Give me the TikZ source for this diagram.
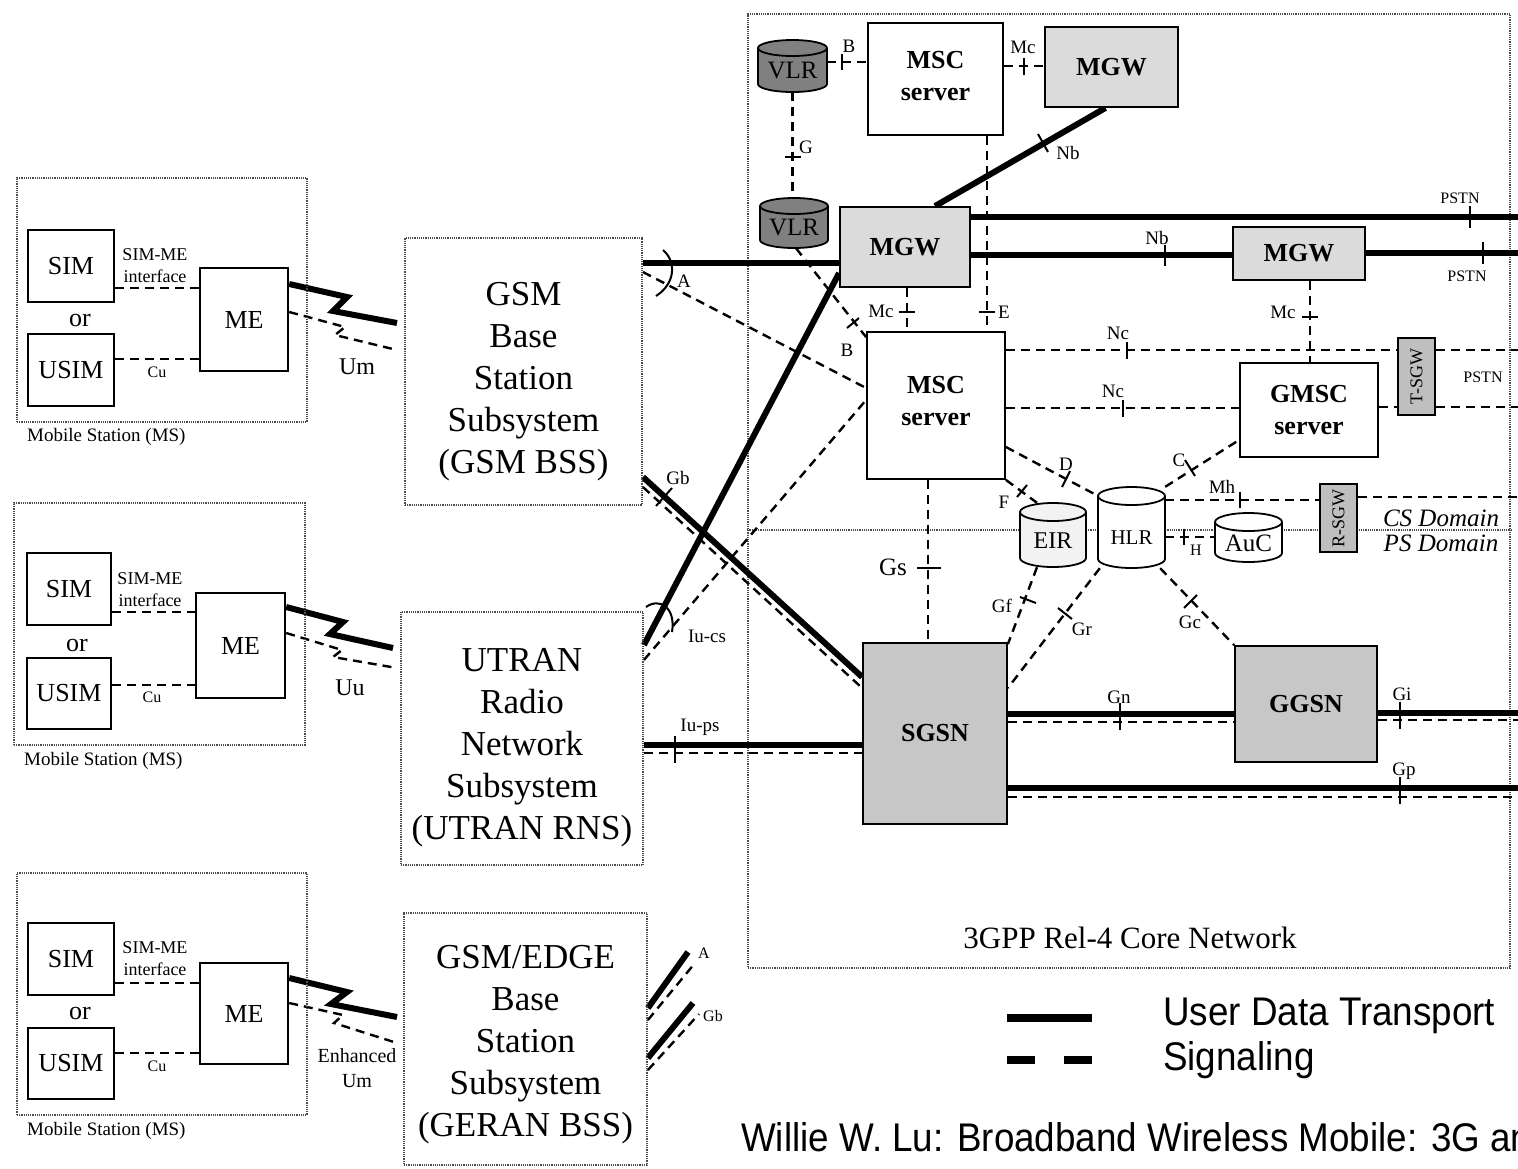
\documentclass[tikz,border=0pt]{standalone}
\usepackage{fontspec}
\setmainfont{Liberation Serif}
\newfontfamily\legendfont[FakeStretch=0.92]{Liberation Sans}
\usetikzlibrary{calc}
\pgfdeclarelayer{back}
\pgfdeclarelayer{links}
\pgfsetlayers{back,links,main}
\newcommand\fs[2]{\fontsize{#1}{#2}\selectfont}
\newcommand\mycyl[7]{%
  \fill[#7] (#1,#2+#6) -- (#1,#4-#6) arc[start angle=180,end angle=360,x radius=#5pt,y radius=#6pt] -- (#3,#2+#6) arc[start angle=0,end angle=180,x radius=#5pt,y radius=#6pt] -- cycle;
  \draw[line width=1.8pt] (#1,#2+#6) -- (#1,#4-#6) arc[start angle=180,end angle=360,x radius=#5pt,y radius=#6pt] -- (#3,#2+#6);
  \draw[line width=1.8pt] (#3,#2+#6) arc[start angle=0,end angle=360,x radius=#5pt,y radius=#6pt];
}
\definecolor{vlrgray}{gray}{0.50}
\definecolor{mgwgray}{gray}{0.86}
\definecolor{sgsngray}{gray}{0.78}
\definecolor{gwgray}{gray}{0.75}
\definecolor{eirgray}{gray}{0.95}
\begin{document}
\begin{tikzpicture}[x=1pt,y=-1pt,
  sig/.style={line width=2.4pt, dash pattern=on 9pt off 6pt},
  data/.style={line width=6pt},
  tk/.style={line width=2pt},
  dotbox/.style={draw=black!70, line width=1.8pt, dash pattern=on 1.2pt off 1pt, inner sep=0pt, align=center},
  sbox/.style={draw, line width=2.4pt, inner sep=0pt, align=center, font=\fs{26}{30}},
  cbox/.style={draw, line width=1.8pt, inner sep=0pt, align=center, font=\fs{26}{32}\bfseries},
  geo/.style={inner sep=0pt},
  lb/.style={inner sep=0pt, font=\fs{19}{19}},
  slb/.style={inner sep=0pt, font=\fs{16}{16}},
  cylt/.style={inner sep=0pt, font=\fs{24}{24}},
  bsstext/.style={inner sep=0pt, align=center, font=\fs{35}{42}},
]
\useasboundingbox (0,0) rectangle (1518,1168);

% ---------- background: core network frame and domain line
\begin{pgfonlayer}{back}
\node[dotbox, minimum width=762pt, minimum height=954pt] (core) at (1129,491) {};
\draw[black!70, line width=1.5pt, dash pattern=on 1.2pt off 1pt] (core.west |- 0,530) -- (core.east |- 0,530);
\end{pgfonlayer}
\node[font=\fs{31}{31}] (corelbl) at (1130,938) {3GPP Rel-4 Core Network};
\node[font=\fs{25}{25}\itshape] (csdom) at (1441,518) {CS Domain};
\node[font=\fs{25}{25}\itshape] (psdom) at (1441,543) {PS Domain};

% ---------- mobile stations
\node[dotbox, minimum width=290pt, minimum height=244pt] (ms1) at (162,300) {};
\node[dotbox, minimum width=291pt, minimum height=242pt] (ms2) at (159.5,624) {};
\node[dotbox, minimum width=290pt, minimum height=242pt] (ms3) at (162,994) {};

\node[sbox, minimum width=86pt, minimum height=72pt] (sim1) at (71,266) {SIM};
\node[sbox, minimum width=86pt, minimum height=72pt] (usim1) at (71,370) {USIM};
\node[sbox, minimum width=88pt, minimum height=103pt] (me1) at (244,319.5) {ME};
\node[sbox, minimum width=84pt, minimum height=72pt] (sim2) at (69,589) {SIM};
\node[sbox, minimum width=84pt, minimum height=71pt] (usim2) at (69,693.5) {USIM};
\node[sbox, minimum width=89pt, minimum height=105pt] (me2) at (240.5,645.5) {ME};
\node[sbox, minimum width=86pt, minimum height=72pt] (sim3) at (71,959) {SIM};
\node[sbox, minimum width=86pt, minimum height=71pt] (usim3) at (71,1063.5) {USIM};
\node[sbox, minimum width=88pt, minimum height=101pt] (me3) at (244,1013.5) {ME};

\node[font=\fs{26}{26}] (or1) at (80,320) {or};
\node[font=\fs{26}{26}] (or2) at (77,645) {or};
\node[font=\fs{26}{26}] (or3) at (80,1013) {or};
\node[font=\fs{18}{22}, align=center, inner sep=0pt] (smi1) at (155,266) {SIM-ME\\interface};
\node[font=\fs{18}{22}, align=center, inner sep=0pt] (smi2) at (150,590) {SIM-ME\\interface};
\node[font=\fs{18}{22}, align=center, inner sep=0pt] (smi3) at (155,959) {SIM-ME\\interface};
\node[slb] (cu1) at (157,372) {Cu};
\node[slb] (cu2) at (152,697) {Cu};
\node[slb] (cu3) at (157,1066) {Cu};
\node[anchor=west, font=\fs{19}{19}, inner sep=0pt] (msl1) at (27,437) {Mobile Station (MS)};
\node[anchor=west, font=\fs{19}{19}, inner sep=0pt] (msl2) at (24,761) {Mobile Station (MS)};
\node[anchor=west, font=\fs{19}{19}, inner sep=0pt] (msl3) at (27,1131) {Mobile Station (MS)};

% ---------- access networks
\node[dotbox, minimum width=237pt, minimum height=267pt] (gsmbss) at (523.5,371.5) {};
\node[bsstext] (gsmbsst) at (523.5,382) {GSM\\Base\\Station\\Subsystem\\(GSM BSS)};
\node[dotbox, minimum width=242pt, minimum height=253pt] (utran) at (522,738.5) {};
\node[bsstext] (utrant) at (522,747.5) {UTRAN\\Radio\\Network\\Subsystem\\(UTRAN RNS)};
\node[dotbox, minimum width=243pt, minimum height=252pt] (geran) at (525.5,1039) {};
\node[bsstext] (gerant) at (525.5,1045) {GSM/EDGE\\Base\\Station\\Subsystem\\(GERAN BSS)};

\node[font=\fs{24}{24}] (um1) at (357,367) {Um};
\node[font=\fs{24}{24}] (uu2) at (350,688) {Uu};
\node[font=\fs{20}{25}, align=center, inner sep=0pt] (um3) at (357,1068) {Enhanced\\Um};

% ---------- core network elements
\mycyl{758}{40}{827}{92}{34.5}{8}{vlrgray}
\node[geo, minimum width=69pt, minimum height=52pt] (vlr1) at (792.5,66) {};
\node[cylt, font=\fs{25}{25}] (vlr1t) at (792.5,70) {VLR};
\mycyl{760}{198}{828}{248}{34}{8}{vlrgray}
\node[geo, minimum width=68pt, minimum height=50pt] (vlr2) at (794,223) {};
\node[cylt, font=\fs{25}{25}] (vlr2t) at (794,227) {VLR};

\node[cbox, fill=white, minimum width=135pt, minimum height=112pt, text depth=7pt] (msc1) at (935.5,79) {MSC\\server};
\node[cbox, fill=mgwgray, minimum width=133pt, minimum height=80pt] (mgw1) at (1111.5,67) {MGW};
\node[cbox, fill=mgwgray, minimum width=130pt, minimum height=80pt] (mgw2) at (905,247) {MGW};
\node[cbox, fill=mgwgray, minimum width=132pt, minimum height=53pt] (mgw3) at (1299,253.5) {MGW};
\node[cbox, fill=white, minimum width=138pt, minimum height=147pt, text depth=10pt] (msc2) at (936,405.5) {MSC\\server};
\node[cbox, fill=white, minimum width=138pt, minimum height=94pt] (gmsc) at (1309,410) {GMSC\\server};
\node[geo, draw, line width=1.8pt, fill=gwgray, minimum width=37pt, minimum height=77pt] (tsgw) at (1416.5,376.5) {};
\node[inner sep=0pt, rotate=90, font=\fs{18}{18}] (tsgwt) at (1416.5,376.5) {T-SGW};
\node[geo, draw, line width=1.8pt, fill=gwgray, minimum width=37pt, minimum height=68pt] (rsgw) at (1338.5,518) {};
\node[inner sep=0pt, rotate=90, font=\fs{18}{18}] (rsgwt) at (1338.5,518) {R-SGW};

\mycyl{1020}{503}{1086}{567}{33}{9}{eirgray}
\node[geo, minimum width=66pt, minimum height=64pt] (eir) at (1053,535) {};
\node[cylt] (eirt) at (1053,541) {EIR};
\mycyl{1098}{487}{1165}{568}{33.5}{9}{white}
\node[geo, minimum width=67pt, minimum height=81pt] (hlr) at (1131.5,527.5) {};
\node[cylt, font=\fs{21}{21}] (hlrt) at (1131.5,538) {HLR};
\mycyl{1215}{513}{1282}{562}{33.5}{9}{white}
\node[geo, minimum width=67pt, minimum height=49pt] (auc) at (1248.5,537.5) {};
\node[cylt, font=\fs{25}{25}] (auct) at (1248.5,543) {AuC};

\node[cbox, fill=sgsngray, minimum width=144pt, minimum height=181pt] (sgsn) at (935,733.5) {SGSN};
\node[cbox, fill=sgsngray, minimum width=142pt, minimum height=116pt] (ggsn) at (1306,704) {GGSN};

% free ends
\coordinate (pstnA) at (1518,217);
\coordinate (pstnB) at (1518,253);
\coordinate (ncEnd) at (1518,350);
\coordinate (pstnC) at (1518,407);
\coordinate (mhEnd) at (1518,497);
\coordinate (giEnd) at (1518,713);
\coordinate (giEndS) at (1518,720);
\coordinate (gpEnd) at (1518,788);
\coordinate (gpEndS) at (1518,797);
\coordinate (rad1) at (397,323);
\coordinate (rad1s) at (397,350);
\coordinate (rad2) at (393,648);
\coordinate (rad2s) at (397,668);
\coordinate (rad3) at (397,1017);
\coordinate (rad3s) at (397,1043);
\coordinate (geA) at (688,952);
\coordinate (geAs) at (695,963);
\coordinate (geGb) at (693,1003);
\coordinate (geGbs) at (699,1014);

% ---------- connectors
\begin{pgfonlayer}{links}
% MS internal
\draw[sig] (sim1.east |- 0,288) -- (me1.west |- 0,288);
\draw[sig] (usim1.east |- 0,359) -- (me1.west |- 0,359);
\draw[sig] (sim2.east |- 0,612) -- (me2.west |- 0,612);
\draw[sig] (usim2.east |- 0,685) -- (me2.west |- 0,685);
\draw[sig] (sim3.east |- 0,983) -- (me3.west |- 0,983);
\draw[sig] (usim3.east |- 0,1053) -- (me3.west |- 0,1053);
% radio
\draw[data, line join=miter] (me1.east |- 0,284) -- (347,297) -- (333,311) -- (rad1);
\draw[sig] (me1.east |- 0,312) -- (345,327) -- (335,335) -- (rad1s);
\draw[data, line join=miter] (me2.east |- 0,607) -- (343,622) -- (330,634) -- (rad2);
\draw[sig] (me2.east |- 0,633) -- (342,650) -- (333,657) -- (rad2s);
\draw[data, line join=miter] (me3.east |- 0,978) -- (347,992) -- (331,1004) -- (rad3);
\draw[sig] (me3.east |- 0,1003) -- (343,1015) -- (334,1023) -- (rad3s);

% top area
\draw[sig] (vlr1.east |- 0,62) -- (msc1.west |- 0,62);
\draw[tk] (842,54) -- (842,70);
\draw[sig] (msc1.east |- 0,66) -- (mgw1.west |- 0,66);
\draw[tk] (1024,58) -- (1024,75);
\draw[sig] (vlr1.south) -- (vlr1.south |- vlr2.north);
\draw[tk] (785,157) -- (801,157);
\draw[data] ([xshift=-6pt]mgw1.south) -- ([xshift=30pt]mgw2.north);
\draw[tk] (1038,134) -- (1048,152);
\draw[sig] (msc1.south -| 987,0) -- (msc2.north -| 987,0);
\draw[tk] (979,312) -- (995,312);
\draw[sig] (mgw2.south -| 907,0) -- (msc2.north -| 907,0);
\draw[tk] (899,312) -- (915,312);

% PSTN trunks
\draw[data] (mgw2.east |- 0,217) -- (pstnA);
\draw[tk] (1470,206) -- (1470,228);
\draw[data] (mgw2.east |- 0,255) -- (mgw3.west |- 0,255);
\draw[tk] (1165,245) -- (1165,266);
\draw[data] (mgw3.east |- 0,253) -- (pstnB);
\draw[tk] (1483,242) -- (1483,264);
\draw[sig] (mgw3.south -| 1310,0) -- (gmsc.north -| 1310,0);
\draw[tk] (1302,317) -- (1318,317);

% A interface
\draw[data] (gsmbss.east |- 0,263) -- (mgw2.west |- 0,263);
\draw[sig] (gsmbss.east |- 0,272) -- (msc2.west |- 0,388);
\draw[tk] (663,250) .. controls (677,262) and (675,284) .. (656,296);
\draw[sig] ([xshift=2pt]vlr2.south) -- ([yshift=-6pt]msc2.north west);
\draw[tk] (847,328) -- (859,318);

% Iu-cs
\draw[data] (utran.east |- 0,645) -- (mgw2.west |- 0,273);
\draw[sig] (utran.east |- 0,660) -- (msc2.west |- 0,400);
\draw[tk] (646,607) .. controls (660,597) and (676,608) .. (672,632);

% Gb
\draw[data] (gsmbss.east |- 0,477) -- (sgsn.west |- 0,677);
\draw[sig] (gsmbss.east |- 0,487) -- (sgsn.west |- 0,688);
\draw[tk] (672,488) -- (656,506);

% Iu-ps
\draw[data] (utran.east |- 0,745) -- (sgsn.west |- 0,745);
\draw[sig] (utran.east |- 0,753) -- (sgsn.west |- 0,753);
\draw[tk] (675,736) -- (675,763);

% Nc and PSTN signalling
\draw[sig] (msc2.east |- 0,350) -- (tsgw.west |- 0,350);
\draw[sig] (tsgw.east |- 0,350) -- (ncEnd);
\draw[tk] (1127,342) -- (1127,359);
\draw[sig] (msc2.east |- 0,408) -- (gmsc.west |- 0,408);
\draw[tk] (1123,400) -- (1123,417);
\draw[sig] (gmsc.east |- 0,407) -- (tsgw.west |- 0,407);
\draw[sig] (tsgw.east |- 0,407) -- (pstnC);

% D, F, C, Mh, H
\draw[sig] (msc2.east |- 0,447) -- ([yshift=-9pt]hlr.north west);
\draw[tk] (1070,471) -- (1062,487);
\draw[sig] (msc2.south east) -- ([xshift=-16pt]eir.north);
\draw[tk] (1027,485) -- (1017,497);
\draw[sig] (hlr.north east) -- (gmsc.west |- 0,440);
\draw[tk] (1195,476) -- (1185,460);
\draw[sig] (hlr.east |- 0,500) -- (rsgw.west |- 0,500);
\draw[sig] (rsgw.east |- 0,497) -- (mhEnd);
\draw[tk] (1240,492) -- (1240,508);
\draw[sig] (hlr.east |- 0,537) -- (auc.west |- 0,537);
\draw[tk] (1184,529) -- (1184,545);

% Gs, Gf, Gr, Gc
\draw[sig] (msc2.south -| 928,0) -- (sgsn.north -| 928,0);
\draw[tk] (917,568) -- (941,568);
\draw[sig] ([xshift=-16pt]eir.south) -- ([yshift=-2pt]sgsn.north east);
\draw[tk] (1036,603) -- (1020,597);
\draw[sig] ([xshift=2pt]hlr.south west) -- (sgsn.east |- 0,688);
\draw[tk] (1072,619) -- (1058,608);
\draw[sig] ([xshift=-5pt]hlr.south east) -- (ggsn.north west);
\draw[tk] (1197,595) -- (1184,608);

% Gn, Gi, Gp
\draw[data] (sgsn.east |- 0,714) -- (ggsn.west |- 0,714);
\draw[sig] (sgsn.east |- 0,722) -- (ggsn.west |- 0,722);
\draw[tk] (1120,703) -- (1120,730);
\draw[data] (ggsn.east |- 0,713) -- (giEnd);
\draw[sig] (ggsn.east |- 0,720) -- (giEndS);
\draw[tk] (1400,702) -- (1400,729);
\draw[data] (sgsn.east |- 0,788) -- (gpEnd);
\draw[sig] (sgsn.east |- 0,797) -- (gpEndS);
\draw[tk] (1400,777) -- (1400,804);

% GERAN stubs
\draw[data] (geran.east |- 0,1008) -- (geA);
\draw[sig] (geran.east |- 0,1020) -- (geAs);
\draw[data] (geran.east |- 0,1058) -- (geGb);
\draw[sig] (geran.east |- 0,1070) -- (geGbs);
\end{pgfonlayer}

% ---------- interface labels
\node[lb] (lB1) at (849,46) {B};
\node[lb] (lMc1) at (1023,47) {Mc};
\node[lb] (lG) at (806,147) {G};
\node[lb] (lNb1) at (1068,153) {Nb};
\node[lb] (lE) at (1004,312) {E};
\node[lb] (lMc2) at (881,311) {Mc};
\node[lb] (lNb2) at (1157,238) {Nb};
\node[slb] (lP1) at (1460,198) {PSTN};
\node[slb] (lP2) at (1467,276) {PSTN};
\node[slb] (lP3) at (1483,377) {PSTN};
\node[lb] (lMc3) at (1283,312) {Mc};
\node[lb] (lA) at (684,281) {A};
\node[lb] (lB2) at (847,350) {B};
\node[lb] (lIucs) at (707,636) {Iu-cs};
\node[lb] (lGb) at (678,478) {Gb};
\node[lb] (lIups) at (700,727) {Iu-ps};
\node[lb] (lNc1) at (1118,333) {Nc};
\node[lb] (lNc2) at (1113,391) {Nc};
\node[lb] (lD) at (1066,464) {D};
\node[lb] (lF) at (1004,502) {F};
\node[lb] (lC) at (1179,460) {C};
\node[lb] (lMh) at (1222,487) {Mh};
\node[slb] (lH) at (1196,550) {H};
\node[font=\fs{25}{25}, inner sep=0pt] (lGs) at (893,567) {Gs};
\node[lb] (lGf) at (1002,606) {Gf};
\node[lb] (lGr) at (1082,629) {Gr};
\node[lb] (lGc) at (1190,622) {Gc};
\node[lb] (lGn) at (1119,697) {Gn};
\node[lb] (lGi) at (1402,694) {Gi};
\node[lb] (lGp) at (1404,771) {Gp};
\node[slb] (lA3) at (704,953) {A};
\node[slb] (lGb3) at (713,1016) {Gb};

% ---------- legend
\coordinate (lg1a) at (1007,1018);
\coordinate (lg1b) at (1092,1018);
\coordinate (lg2a) at (1007,1060);
\coordinate (lg2b) at (1092,1060);
\draw[line width=8pt] (lg1a) -- (lg1b);
\draw[line width=8pt, dash pattern=on 28pt off 29pt] (lg2a) -- (lg2b);
\node[anchor=west, inner sep=0pt, font=\legendfont\fs{40}{40}] (lgt1) at (1163,1016) {User Data Transport};
\node[anchor=west, inner sep=0pt, font=\legendfont\fs{40}{40}] (lgt2) at (1163,1060) {Signaling};
\begin{scope}
\clip (0,0) rectangle (1518,1168);
\node[anchor=west, inner sep=0pt, font=\legendfont\fs{40}{40}] (cite) at (741,1141) {Willie W. Lu: Broadband Wireless Mobile: 3G and Beyond};
\end{scope}
\end{tikzpicture}
\end{document}
